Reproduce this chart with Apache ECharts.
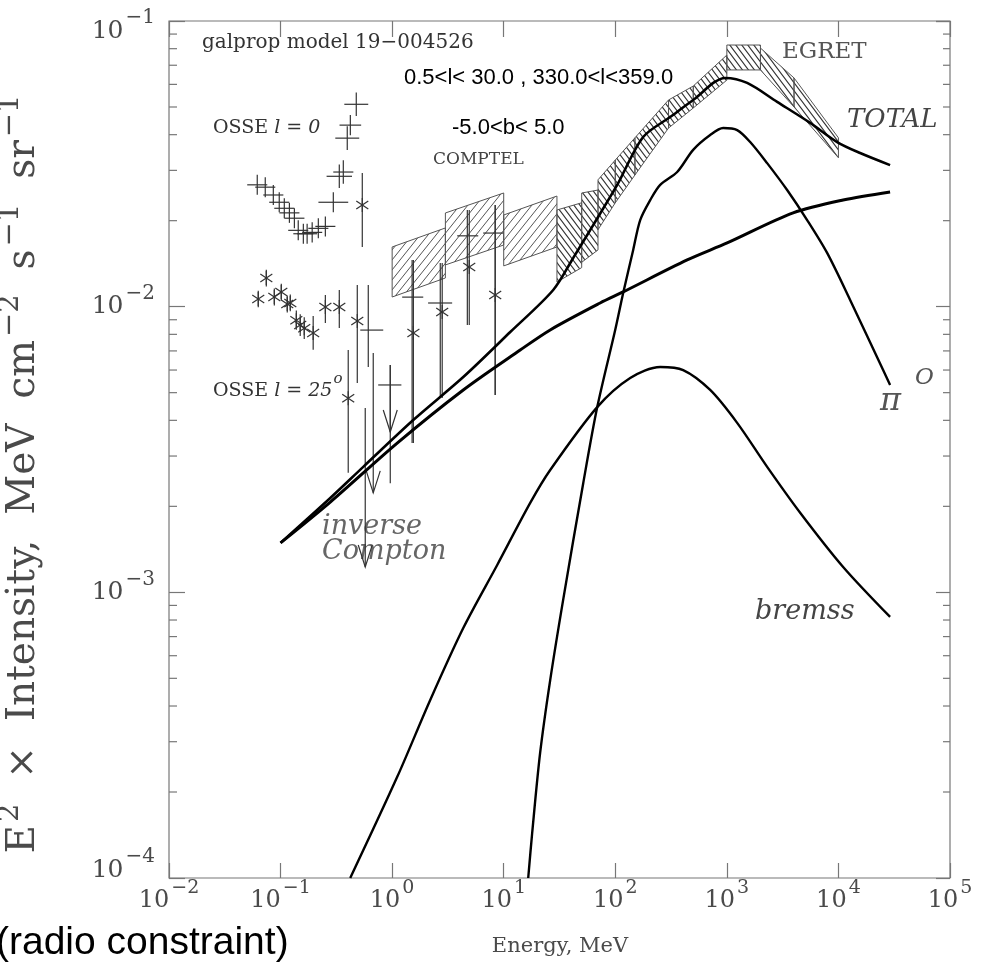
<!DOCTYPE html>
<html>
<head>
<meta charset="utf-8">
<script src="https://cdn.jsdelivr.net/npm/echarts@6.0.0/dist/echarts.min.js"></script>
<style>
html,body{margin:0;padding:0;background:#ffffff;}
#chart{width:986px;height:964px;}
</style>
</head>
<body>
<div id="chart"></div>
<script>
// ---------------- axes ----------------
const xMajorTicks = [1e-2, 1e-1, 1e0, 1e1, 1e2, 1e3, 1e4, 1e5];
const yMajorTicks = [1e-4, 1e-3, 1e-2, 1e-1];
const yMinorTicks = [2e-4,3e-4,4e-4,5e-4,6e-4,7e-4,8e-4,9e-4,
                     2e-3,3e-3,4e-3,5e-3,6e-3,7e-3,8e-3,9e-3,
                     2e-2,3e-2,4e-2,5e-2,6e-2,7e-2,8e-2,9e-2];

// ---------------- model curves (E in MeV, E^2 x intensity) ----------------
const icE  = [0.1, 0.279, 1.11, 4.34, 14.05, 26.1, 73.2, 117.7, 441, 1006, 3928, 11020, 29050];
const icI  = [1.49e-3, 2.07e-3, 3.33e-3, 5.11e-3, 7.05e-3, 8.29e-3, 1.03e-2, 1.126e-2, 1.457e-2, 1.671e-2, 2.129e-2, 2.362e-2, 2.52e-2];

const totE = [0.1, 0.279, 0.551, 1.546, 4.34, 11.44, 27.77, 41.97, 63.39, 104.0, 177.8, 310.4, 498.9, 965.6, 1520, 2823, 5577, 9736, 15650, 29050];
const totI = [1.49e-3, 2.14e-3, 2.75e-3, 4.01e-3, 5.67e-3, 8.15e-3, 1.144e-2, 1.481e-2, 1.93e-2, 2.667e-2, 3.926e-2, 4.61e-2, 5.29e-2, 6.32e-2, 6.07e-2, 5.21e-2, 4.40e-2, 3.77e-2, 3.45e-2, 3.13e-2];

const pi0E = [16.58, 18.0, 21.2, 26.1, 34.1, 51.6, 68.9, 99.8, 117.7, 144.7, 167.2, 205.5, 252.6, 358.6, 498.9, 708.7, 926.4, 1237, 1618, 2297, 3470, 5243, 7920, 12730, 25150, 29050];
const pi0I = [1.0e-4, 1.44e-4, 2.74e-4, 4.93e-4, 9.41e-4, 2.41e-3, 4.45e-3, 8.29e-3, 1.117e-2, 1.58e-2, 2.01e-2, 2.36e-2, 2.67e-2, 2.96e-2, 3.54e-2, 3.99e-2, 4.22e-2, 4.15e-2, 3.77e-2, 3.18e-2, 2.56e-2, 2.01e-2, 1.542e-2, 1.056e-2, 6.0e-3, 5.32e-3];

const brE  = [0.421, 1.111, 2.195, 4.34, 8.745, 17.28, 26.1, 68.85, 136.0, 252.6, 405.9, 708.7, 1237, 2297, 4538, 11020, 29050];
const brI  = [1.0e-4, 2.26e-4, 4.20e-4, 7.50e-4, 1.247e-3, 2.056e-3, 2.68e-3, 4.45e-3, 5.63e-3, 6.15e-3, 6.0e-3, 5.11e-3, 3.92e-3, 2.75e-3, 1.90e-3, 1.227e-3, 8.2e-4];

// ---------------- COMPTEL boxes ----------------
const compEmin  = [1, 3, 10];
const compEmax  = [3, 10, 30];
const compTopLo = [0.01618, 0.02128, 0.02094];
const compTopHi = [0.01886, 0.02500, 0.02439];
const compBotLo = [0.01081, 0.01400, 0.01389];
const compBotHi = [0.01260, 0.01644, 0.01618];

// ---------------- EGRET boxes ----------------
const egrEmin  = [30, 50, 70, 100, 150, 300, 500, 1000, 2000, 4000];
const egrEmax  = [50, 70, 100, 150, 300, 500, 1000, 2000, 4000, 10000];
const egrTopLo = [0.0218, 0.0250, 0.0278, 0.0326, 0.0390, 0.0529, 0.0592, 0.0824, 0.0804, 0.0632];
const egrTopHi = [0.0231, 0.0256, 0.0326, 0.0390, 0.0529, 0.0592, 0.0760, 0.0824, 0.0632, 0.0390];
const egrBotLo = [0.0122, 0.0143, 0.0186, 0.0231, 0.0289, 0.0422, 0.0496, 0.0674, 0.0674, 0.0500];
const egrBotHi = [0.0137, 0.0158, 0.0231, 0.0289, 0.0422, 0.0496, 0.0621, 0.0674, 0.0500, 0.0332];

// ---------------- OSSE l=0 (crosses) ----------------
const osse0E  = [0.0618, 0.0729, 0.0861, 0.0973, 0.108, 0.120, 0.133, 0.144, 0.160, 0.173, 0.192, 0.218, 0.252, 0.297, 0.336, 0.365, 0.396, 0.422, 0.477];
const osse0I  = [0.0267, 0.0262, 0.0246, 0.0232, 0.0221, 0.0213, 0.0204, 0.0185, 0.0180, 0.0180, 0.0182, 0.0188, 0.0191, 0.0232, 0.0286, 0.0296, 0.0389, 0.0432, 0.0511];
const osse0dE = [1.23, 1.23, 1.23, 1.23, 1.23, 1.23, 1.23, 1.23, 1.23, 1.23, 1.23, 1.23, 1.23, 1.36, 1.30, 1.23, 1.28, 1.25, 1.28];
const osse0dI = [1.084, 1.084, 1.084, 1.084, 1.084, 1.084, 1.084, 1.084, 1.084, 1.084, 1.084, 1.084, 1.084, 1.084, 1.10, 1.10, 1.10, 1.084, 1.10];

// ---------------- OSSE l=25 / other asterisks ----------------
const starE   = [0.0631, 0.0745, 0.0879, 0.1015, 0.1148, 0.1222, 0.1384, 0.150, 0.163, 0.196, 0.252, 0.336, 0.404, 0.487, 0.540, 1.55, 2.81, 4.91, 8.39];
const starI   = [0.01064, 0.01259, 0.01081, 0.01125, 0.01021, 0.01030, 0.00897, 0.00862, 0.00841, 0.00809, 0.00997, 0.00997, 0.00478, 0.00891, 0.0227, 0.00809, 0.00957, 0.01377, 0.01099];
const starIlo = [0.00995, 0.01177, 0.01010, 0.01052, 0.00954, 0.00963, 0.00830, 0.00790, 0.00770, 0.00706, 0.00877, 0.00842, 0.00262, 0.00541, 0.01618, 0.00333, 0.00479, 0.00863, 0.00491];
const starIhi = [0.01138, 0.01347, 0.01157, 0.01204, 0.01092, 0.01102, 0.00969, 0.00940, 0.00918, 0.00928, 0.01099, 0.01144, 0.00705, 0.01191, 0.02937, 0.01457, 0.01422, 0.02181, 0.0227];

// ---------------- crosses with error bars (0.5 - 10 MeV) ----------------
const crossE   = [0.611, 0.962, 1.51, 2.70, 4.72, 8.39];
const crossI   = [0.00828, 0.00532, 0.0108, 0.0103, 0.0177, 0.0181];
const crossElo = [0.518, 0.75, 1.23, 2.10, 3.83, 6.55];
const crossEhi = [0.832, 1.21, 1.90, 3.45, 5.91, 9.89];
const crossIlo = [0.00615, 0.00241, 0.00333, 0.00479, 0.00863, 0.00491];
const crossIhi = [0.01191, 0.00625, 0.01457, 0.01422, 0.02181, 0.0227];

// ---------------- upper limits ----------------
const ulE   = [0.574, 0.677, 0.962];
const ulTop = [0.00442, 0.00689, 0.00625];
const ulTip = [0.001227, 0.00223, 0.00364];

// =====================================================================
const SERIF = '"DejaVu Serif", "Liberation Serif", serif';
const SANS = '"Liberation Sans", Arial, sans-serif';
const GREY = '#4a4a4a';

function hatch(dir, w, h, color, lw) {
  const c = document.createElement('canvas');
  c.width = w; c.height = h;
  const g = c.getContext('2d');
  g.strokeStyle = color; g.lineWidth = lw;
  g.beginPath();
  for (let k = -1; k <= 1; k++) {
    if (dir > 0) { g.moveTo(k * w - w, 2 * h); g.lineTo(k * w + 2 * w, -h); }
    else { g.moveTo(k * w - w, -h); g.lineTo(k * w + 2 * w, 2 * h); }
  }
  g.stroke();
  return c;
}
const comptelPat = hatch(1, 8, 10, '#555', 1);
const egretPat = hatch(-1, 6, 8, '#333', 1.1);

function pairs(a, b) { return a.map((v, i) => [v, b[i]]); }

function expText(v) {
  const e = Math.round(Math.log10(v));
  return e < 0 ? '\u2212' + (-e) : String(e);
}

function boxRender(pat) {
  return function (params, api) {
    const p1 = api.coord([api.value(0), api.value(4)]);
    const p2 = api.coord([api.value(0), api.value(2)]);
    const p3 = api.coord([api.value(1), api.value(3)]);
    const p4 = api.coord([api.value(1), api.value(5)]);
    return {
      type: 'polygon',
      shape: { points: [p1, p2, p3, p4] },
      style: { fill: { image: pat, repeat: 'repeat' }, stroke: '#555', lineWidth: 1 }
    };
  };
}

// rich-text token helper: fixed total height, text placed by top padding
function tok(size, lh, padTop, total, extra) {
  return Object.assign({ fontFamily: SERIF, fontSize: size, lineHeight: lh, color: GREY,
    padding: [padTop, 0, total - padTop - lh, 0] }, extra || {});
}

const chart = echarts.init(document.getElementById('chart'), null, { renderer: 'canvas' });

const lineBase = { type: 'line', showSymbol: false, symbol: 'none', smooth: 0.3, clip: true, silent: true, z: 5 };

const option = {
  animation: false,
  backgroundColor: '#ffffff',
  grid: { left: 169, top: 21, width: 781, height: 857, show: true, borderColor: '#777', borderWidth: 1.2, backgroundColor: 'transparent', containLabel: false, outerBoundsMode: 'none' },
  xAxis: [
    {
      type: 'log', logBase: 10, min: xMajorTicks[0], max: xMajorTicks[xMajorTicks.length - 1], interval: 1, splitNumber: 7,
      position: 'bottom',
      axisLine: { show: false },
      axisTick: { show: true, inside: true, length: 15, lineStyle: { color: '#777', width: 1.2 } },
      minorTick: { show: false }, splitLine: { show: false },
      axisLabel: {
        show: true, margin: 3, showMinLabel: true, showMaxLabel: true,
        formatter: v => '{b|10}{s|' + expText(v) + '}',
        rich: {
          b: tok(24, 26, 14, 40),
          s: Object.assign(tok(19, 14, 7, 40), { padding: [7, 0, 19, 2] })
        }
      }
    },
    {
      type: 'log', logBase: 10, min: xMajorTicks[0], max: xMajorTicks[xMajorTicks.length - 1], interval: 1, splitNumber: 7,
      position: 'top', gridIndex: 0,
      axisLine: { show: false },
      axisTick: { show: true, inside: true, length: 16, lineStyle: { color: '#777', width: 1.2 } },
      axisLabel: { show: false }, splitLine: { show: false }
    }
  ],
  yAxis: [
    {
      type: 'log', logBase: 10, min: yMajorTicks[0], max: yMajorTicks[yMajorTicks.length - 1], interval: 1, splitNumber: 3,
      position: 'left',
      axisLine: { show: false },
      axisTick: { show: true, inside: true, length: 16, lineStyle: { color: '#777', width: 1.2 } },
      minorTick: { show: false }, splitLine: { show: false },
      axisLabel: {
        show: true, margin: 14, showMinLabel: true, showMaxLabel: true,
        formatter: v => {
          const e = Math.round(Math.log10(v));
          const k = e === -1 ? 'T' : (e === -4 ? 'B' : 'M');
          return '{b' + k + '|10}{s' + k + '|' + expText(v) + '}';
        },
        rich: {
          bT: tok(25, 26, 21, 48),
          sT: Object.assign(tok(20, 14, 14, 48), { padding: [14, 0, 20, 2] }),
          bM: tok(25, 26, 7, 40),
          sM: Object.assign(tok(20, 14, 0, 40), { padding: [0, 0, 26, 2] }),
          bB: tok(25, 26, 7, 56),
          sB: Object.assign(tok(20, 14, 0, 56), { padding: [0, 0, 42, 2] })
        }
      }
    },
    {
      type: 'log', logBase: 10, min: yMajorTicks[0], max: yMajorTicks[yMajorTicks.length - 1], interval: 1, splitNumber: 3,
      position: 'right', gridIndex: 0,
      axisLine: { show: false },
      axisTick: { show: true, inside: true, length: 14, lineStyle: { color: '#777', width: 1.2 } },
      axisLabel: { show: false }, splitLine: { show: false }
    }
  ],
  series: [
    // minor y ticks on left and right frame
    {
      type: 'custom', silent: true, z: 6,
      data: yMinorTicks.map(v => [xMajorTicks[0], v]),
      renderItem: function (params, api) {
        const v = api.value(1);
        const l = api.coord([xMajorTicks[0], v]);
        const r = api.coord([xMajorTicks[xMajorTicks.length - 1], v]);
        const st = { stroke: '#777', lineWidth: 1.2 };
        return { type: 'group', children: [
          { type: 'line', shape: { x1: l[0], y1: l[1], x2: l[0] + 8, y2: l[1] }, style: st },
          { type: 'line', shape: { x1: r[0] - 7, y1: r[1], x2: r[0], y2: r[1] }, style: st }
        ] };
      }
    },
    // COMPTEL boxes
    {
      type: 'custom', silent: true, z: 2,
      data: compEmin.map((v, i) => [v, compEmax[i], compTopLo[i], compTopHi[i], compBotLo[i], compBotHi[i]]),
      encode: { x: [0, 1], y: [2, 3, 4, 5] },
      renderItem: boxRender(comptelPat)
    },
    // EGRET boxes
    {
      type: 'custom', silent: true, z: 2,
      data: egrEmin.map((v, i) => [v, egrEmax[i], egrTopLo[i], egrTopHi[i], egrBotLo[i], egrBotHi[i]]),
      encode: { x: [0, 1], y: [2, 3, 4, 5] },
      renderItem: boxRender(egretPat)
    },
    // OSSE l=0 crosses
    {
      type: 'custom', silent: true, z: 3,
      data: osse0E.map((v, i) => [v, osse0I[i], osse0dE[i], osse0dI[i]]),
      renderItem: function (params, api) {
        const e = api.value(0), y = api.value(1), fe = api.value(2), fi = api.value(3);
        const a = api.coord([e / fe, y]), b = api.coord([e * fe, y]);
        const c = api.coord([e, y / fi]), d = api.coord([e, y * fi]);
        const st = { stroke: '#333', lineWidth: 1.2 };
        return { type: 'group', children: [
          { type: 'line', shape: { x1: a[0], y1: a[1], x2: b[0], y2: b[1] }, style: st },
          { type: 'line', shape: { x1: c[0], y1: c[1], x2: d[0], y2: d[1] }, style: st }
        ] };
      }
    },
    // crosses with horizontal and vertical error bars
    {
      type: 'custom', silent: true, z: 3,
      data: crossE.map((v, i) => [v, crossI[i], crossElo[i], crossEhi[i], crossIlo[i], crossIhi[i]]),
      renderItem: function (params, api) {
        const e = api.value(0), y = api.value(1);
        const a = api.coord([api.value(2), y]), b = api.coord([api.value(3), y]);
        const c = api.coord([e, api.value(4)]), d = api.coord([e, api.value(5)]);
        const st = { stroke: '#333', lineWidth: 1.2 };
        return { type: 'group', children: [
          { type: 'line', shape: { x1: a[0], y1: a[1], x2: b[0], y2: b[1] }, style: st },
          { type: 'line', shape: { x1: c[0], y1: c[1], x2: d[0], y2: d[1] }, style: st }
        ] };
      }
    },
    // asterisks with vertical error bars
    {
      type: 'custom', silent: true, z: 3,
      data: starE.map((v, i) => [v, starI[i], starIlo[i], starIhi[i]]),
      renderItem: function (params, api) {
        const e = api.value(0), y = api.value(1);
        const p = api.coord([e, y]);
        const c = api.coord([e, api.value(2)]), d = api.coord([e, api.value(3)]);
        const st = { stroke: '#333', lineWidth: 1.2 };
        const r = 7, rx = 6, ry = 4;
        return { type: 'group', children: [
          { type: 'line', shape: { x1: c[0], y1: c[1], x2: d[0], y2: d[1] }, style: st },
          { type: 'line', shape: { x1: p[0], y1: p[1] - r, x2: p[0], y2: p[1] + r }, style: st },
          { type: 'line', shape: { x1: p[0] - rx, y1: p[1] - ry, x2: p[0] + rx, y2: p[1] + ry }, style: st },
          { type: 'line', shape: { x1: p[0] - rx, y1: p[1] + ry, x2: p[0] + rx, y2: p[1] - ry }, style: st }
        ] };
      }
    },
    // upper limits (arrows)
    {
      type: 'custom', silent: true, z: 3,
      data: ulE.map((v, i) => [v, ulTop[i], ulTip[i]]),
      renderItem: function (params, api) {
        const e = api.value(0);
        const t = api.coord([e, api.value(1)]), b = api.coord([e, api.value(2)]);
        const st = { stroke: '#333', lineWidth: 1.2 };
        return { type: 'group', children: [
          { type: 'line', shape: { x1: t[0], y1: t[1], x2: b[0], y2: b[1] }, style: st },
          { type: 'polyline', shape: { points: [[b[0] - 7, b[1] - 22], [b[0], b[1]], [b[0] + 7, b[1] - 22]] }, style: { stroke: '#333', lineWidth: 1.2, fill: null } }
        ] };
      }
    },
    // model curves
    Object.assign({}, lineBase, { name: 'bremss', data: pairs(brE, brI), lineStyle: { color: '#000', width: 2.4 } }),
    Object.assign({}, lineBase, { name: 'pi0', data: pairs(pi0E, pi0I), lineStyle: { color: '#000', width: 2.4 } }),
    Object.assign({}, lineBase, { name: 'IC', data: pairs(icE, icI), lineStyle: { color: '#000', width: 3 } }),
    Object.assign({}, lineBase, { name: 'TOTAL', data: pairs(totE, totI), lineStyle: { color: '#000', width: 2.6 } })
  ],
  graphic: { elements: [
    { type: 'text', x: 202, y: 43, silent: true, style: { text: 'galprop model 19\u2212004526', font: '20px ' + SERIF, fill: '#333', align: 'left', verticalAlign: 'middle', textAlign: 'left', textVerticalAlign: 'middle' } },
    { type: 'text', x: 404, y: 78, silent: true, style: { text: '0.5<l< 30.0 , 330.0<l<359.0', font: '22px ' + SANS, fill: '#000', align: 'left', verticalAlign: 'middle', textAlign: 'left', textVerticalAlign: 'middle' } },
    { type: 'text', x: 452, y: 128, silent: true, style: { text: '-5.0<b< 5.0', font: '22px ' + SANS, fill: '#000', align: 'left', verticalAlign: 'middle', textAlign: 'left', textVerticalAlign: 'middle' } },
    { type: 'text', x: 433, y: 160, silent: true, style: { text: 'COMPTEL', font: '17px ' + SERIF, fill: '#444', align: 'left', verticalAlign: 'middle', textAlign: 'left', textVerticalAlign: 'middle' } },
    { type: 'text', x: 782, y: 52, silent: true, style: { text: 'EGRET', font: '23px ' + SERIF, fill: '#555', align: 'left', verticalAlign: 'middle', textAlign: 'left', textVerticalAlign: 'middle' } },
    { type: 'text', x: 847, y: 120, silent: true, style: { text: 'TOTAL', font: 'italic 26px ' + SERIF, fill: '#444', align: 'left', verticalAlign: 'middle', textAlign: 'left', textVerticalAlign: 'middle' } },
    { type: 'text', x: 880, y: 402, silent: true, style: { text: '\u03c0', font: 'italic 32px ' + SERIF, fill: '#555', align: 'left', verticalAlign: 'middle', textAlign: 'left', textVerticalAlign: 'middle' } },
    { type: 'text', x: 915, y: 378, silent: true, style: { text: 'O', font: 'italic 23px ' + SERIF, fill: '#555', align: 'left', verticalAlign: 'middle', textAlign: 'left', textVerticalAlign: 'middle' } },
    { type: 'text', x: 755, y: 612, silent: true, style: { text: 'bremss', font: 'italic 27px ' + SERIF, fill: '#444', align: 'left', verticalAlign: 'middle', textAlign: 'left', textVerticalAlign: 'middle' } },
    { type: 'text', x: 322, y: 527, silent: true, style: { text: 'inverse', font: 'italic 27px ' + SERIF, fill: '#666', align: 'left', verticalAlign: 'middle', textAlign: 'left', textVerticalAlign: 'middle' } },
    { type: 'text', x: 322, y: 552, silent: true, style: { text: 'Compton', font: 'italic 27px ' + SERIF, fill: '#666', align: 'left', verticalAlign: 'middle', textAlign: 'left', textVerticalAlign: 'middle' } },
    { type: 'text', x: 213, y: 128, silent: true, style: {
        text: '{n|OSSE }{i|l}{n| = }{i|0}', align: 'left', verticalAlign: 'middle', textAlign: 'left', textVerticalAlign: 'middle',
        rich: { n: { fontFamily: SERIF, fontSize: 19, fill: '#333', color: '#333' }, i: { fontFamily: SERIF, fontSize: 19, fontStyle: 'italic', fill: '#333', color: '#333' } } } },
    { type: 'text', x: 213, y: 387, silent: true, style: {
        text: '{n|OSSE }{i|l}{n| = }{i|25}{o|o}', align: 'left', verticalAlign: 'middle', textAlign: 'left', textVerticalAlign: 'middle',
        rich: { n: { fontFamily: SERIF, fontSize: 19, fill: '#333', color: '#333', lineHeight: 24, padding: [8, 0, 0, 0] },
                i: { fontFamily: SERIF, fontSize: 19, fontStyle: 'italic', fill: '#333', color: '#333', lineHeight: 24, padding: [8, 0, 0, 0] },
                o: { fontFamily: SERIF, fontSize: 15, fontStyle: 'italic', fill: '#333', color: '#333', lineHeight: 16, padding: [0, 0, 16, 1] } } } },
    { type: 'text', x: 560, y: 947, silent: true, style: { text: 'Energy, MeV', font: '21px ' + SERIF, fill: GREY, align: 'center', verticalAlign: 'middle', textAlign: 'center', textVerticalAlign: 'middle' } },
    { type: 'text', x: 17, y: 474, rotation: Math.PI / 2, silent: true, style: {
        text: '{t|E}{u|2}{t|  \u00d7  Intensity,  MeV  cm}{u|\u22122}{t|  s}{u|\u22121}{t|  sr}{u|\u22121}',
        align: 'center', verticalAlign: 'middle', textAlign: 'center', textVerticalAlign: 'middle',
        rich: {
          t: { fontFamily: SERIF, fontSize: 39, lineHeight: 42, fill: GREY, color: GREY, padding: [14, 0, 0, 0] },
          u: { fontFamily: SERIF, fontSize: 29, lineHeight: 20, fill: GREY, color: GREY, padding: [11, 0, 25, 3] }
        } } },
    { type: 'text', x: -4, y: 943, silent: true, style: { text: '(radio constraint)', font: '39px ' + SANS, fill: '#000', align: 'left', verticalAlign: 'middle', textAlign: 'left', textVerticalAlign: 'middle' } }
  ] }
};

chart.setOption(option);
</script>
</body>
</html>
